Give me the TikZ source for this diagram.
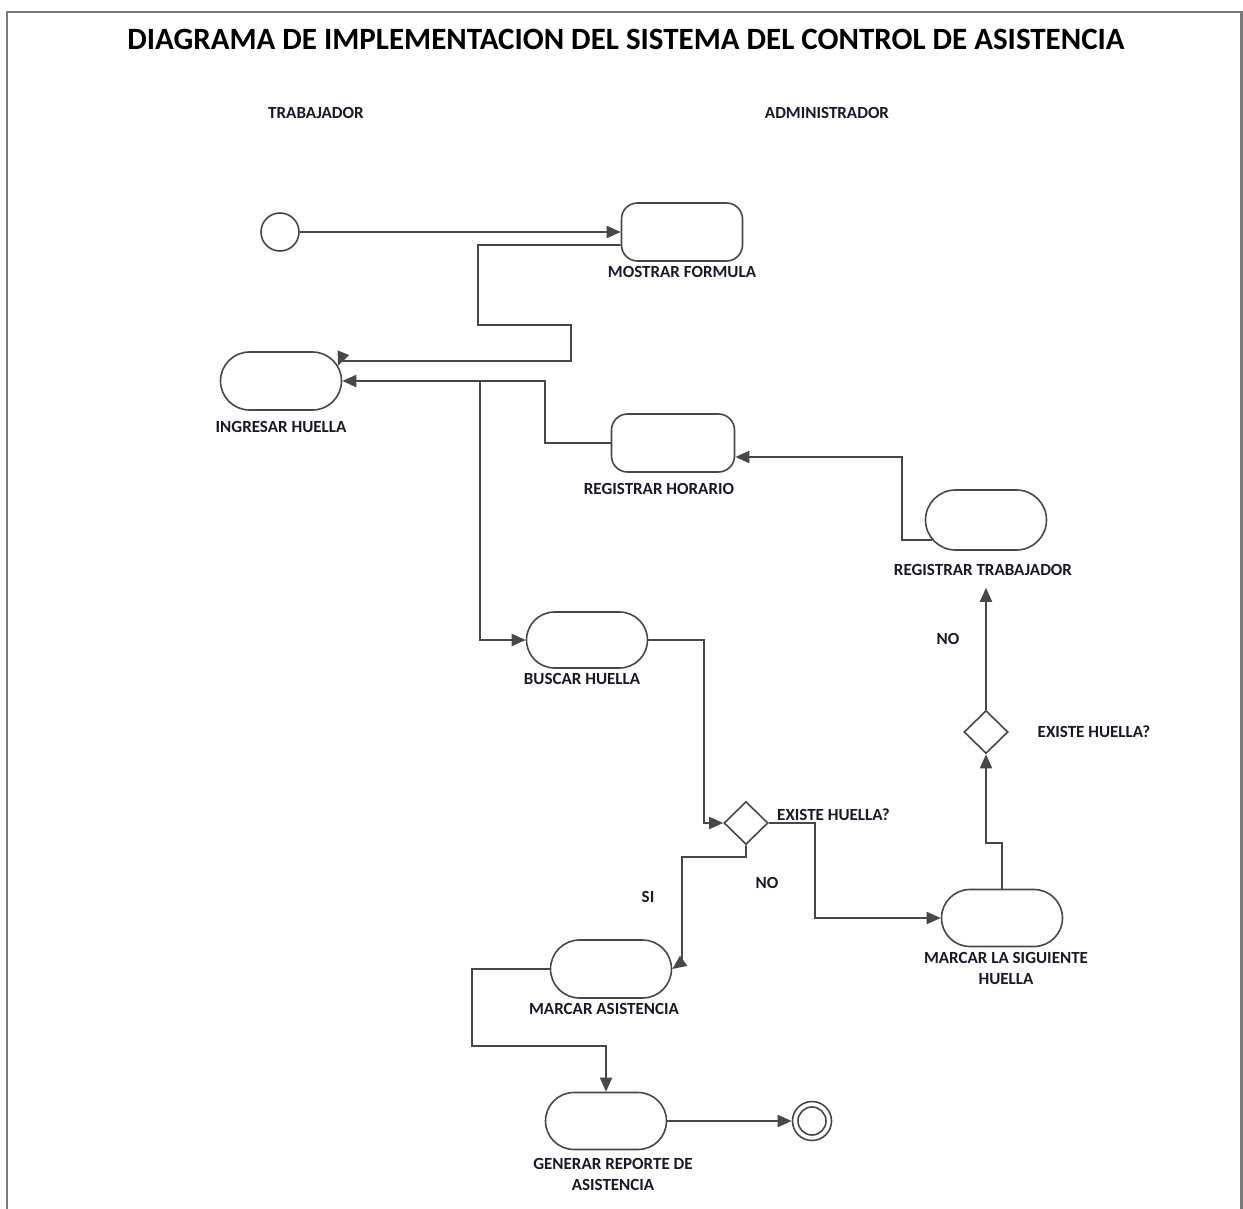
\documentclass[tikz,border=0pt]{standalone}
\usepackage{fontspec}
\setmainfont{Carlito}
\usetikzlibrary{arrows.meta,shapes.geometric,shapes.misc}
\definecolor{linec}{HTML}{484848}
\definecolor{txt}{HTML}{1A1A26}
\definecolor{framec}{HTML}{7A7A7A}
\begin{document}
\begin{tikzpicture}[x=1pt,y=-1pt,
  conn/.style={draw=linec,line width=1.8pt},
  arr/.style={conn,-{Triangle[length=14pt,width=12pt]}},
  pill/.style={draw=linec,line width=1.6pt,rounded rectangle,minimum width=121pt,minimum height=58pt,inner sep=0pt},
  rbox/.style={draw=linec,line width=1.6pt,rectangle,rounded corners=16pt,minimum width=121pt,minimum height=58pt,inner sep=0pt},
  dia/.style={draw=linec,line width=1.6pt,diamond,minimum width=44pt,minimum height=43pt,inner sep=0pt},
  lbl/.style={font=\fontsize{17}{21}\selectfont\bfseries,text=txt,inner sep=0pt},
  ttl/.style={font=\fontsize{31}{36}\selectfont\bfseries,text=black,inner sep=0pt}
]
\useasboundingbox (0,0) rectangle (1243,1209);
\fill[white] (0,0) rectangle (1243,1209);
\draw[framec,line width=2.2pt] (7,1212) -- (7,12) -- (1241.5,12) -- (1241.5,1212);

\node[ttl] (title) at (626,39) {DIAGRAMA DE IMPLEMENTACION DEL SISTEMA DEL CONTROL DE ASISTENCIA};
\node[lbl] (lane1) at (316,113) {TRABAJADOR};
\node[lbl] (lane2) at (827,113) {ADMINISTRADOR};

\node[circle,draw=linec,line width=1.6pt,minimum size=38pt,inner sep=0pt] (start) at (280,232) {};
\node[rbox] (mostrar) at (682,232) {};
\node[lbl] (lmostrar) at (682,272) {MOSTRAR FORMULA};

\node[pill] (ingresar) at (281,381) {};
\node[lbl] (lingresar) at (281,427) {INGRESAR HUELLA};

\node[rbox,minimum width=123pt] (horario) at (673,443) {};
\node[lbl] (lhorario) at (659,489) {REGISTRAR HORARIO};

\node[pill,minimum height=60pt] (trab) at (986,520) {};
\node[lbl] (ltrab) at (983,570) {REGISTRAR TRABAJADOR};

\node[pill,minimum height=56pt] (buscar) at (587,640) {};
\node[lbl] (lbuscar) at (582,679) {BUSCAR HUELLA};

\node[dia] (d1) at (746,823) {};
\node[lbl,anchor=west] (ld1) at (777,815) {EXISTE HUELLA?};

\node[dia] (d2) at (986,732) {};
\node[lbl] (ld2) at (1094,732) {EXISTE HUELLA?};

\node[lbl] (no2) at (948,639) {NO};
\node[lbl] (no1) at (767,883) {NO};
\node[lbl] (si1) at (648,897) {SI};

\node[pill,minimum height=57pt] (sig) at (1002,918) {};
\node[lbl,align=center] (lsig) at (1006,968) {MARCAR LA SIGUIENTE\\HUELLA};

\node[pill] (marcar) at (611,969) {};
\node[lbl] (lmarcar) at (604,1009) {MARCAR ASISTENCIA};

\node[pill,minimum height=57pt] (gen) at (606,1121) {};
\node[lbl,align=center] (lgen) at (613,1174) {GENERAR REPORTE DE\\ASISTENCIA};

\node[circle,draw=linec,line width=1.6pt,minimum size=39pt,inner sep=0pt] (fin) at (812,1121) {};
\node[circle,draw=linec,line width=1.6pt,minimum size=28pt,inner sep=0pt] (finin) at (812,1121) {};

\coordinate (jn) at (480,381);

% connectors
\draw[arr] (start) -- (mostrar);
\draw[arr] ([yshift=-13pt]mostrar.west) -| (478,325) -| (571,361) -- (340,361) -- (ingresar.15);
\draw[arr] (horario.west) -| (545,381) -- (ingresar.east);
\draw[arr] (jn) |- (buscar.west);
\draw[arr] (buscar.east) -| (704,823) -- (d1.west);
\draw[arr] (d1.east) -| (815,918) -- (sig.west);
\draw[arr] (d1.south) -- (746,857) -| (682,962) -- (marcar.east);
\draw[arr] (marcar.west) -| (472,1046) -| (gen.north);
\draw[arr] (gen.east) -- (fin.west);
\draw[arr] (sig.north) -- (1002,843) -| (d2.south);
\draw[arr] (d2.north) -- ([yshift=-37pt]trab.south);
\draw[arr] (trab.200) -| (902,457) -- ([yshift=-14pt]horario.east);
\end{tikzpicture}
\end{document}
